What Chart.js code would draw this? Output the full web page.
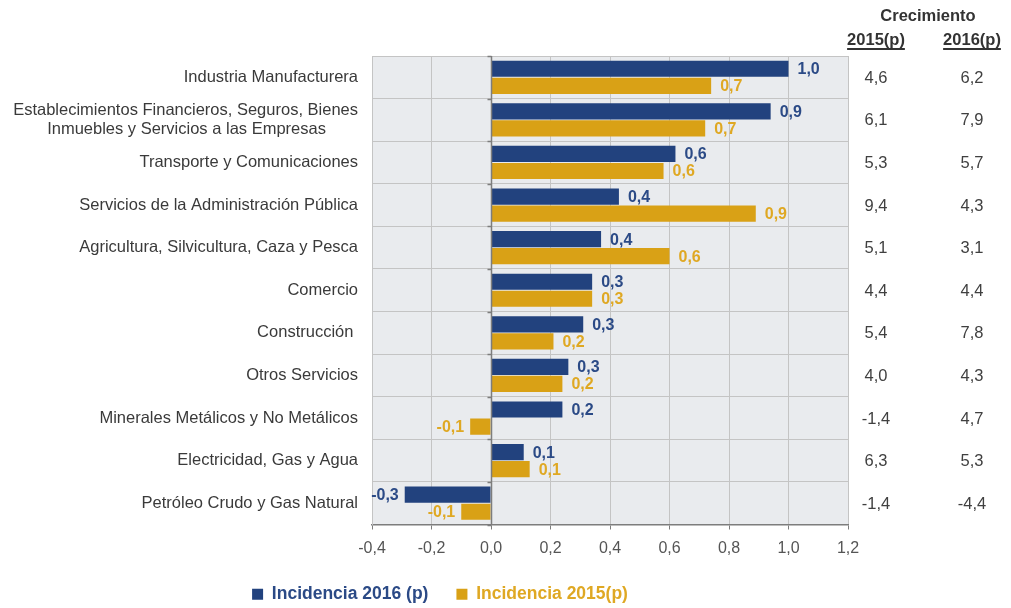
<!DOCTYPE html>
<html>
<head>
<meta charset="utf-8">
<script src="https://cdn.jsdelivr.net/npm/chart.js@4/dist/chart.umd.min.js"></script>
<style>
  html, body { margin: 0; padding: 0; background: #fff; }
  #wrap { width: 1011px; height: 608px; position: relative; }
</style>
</head>
<body>
<div id="wrap"><canvas id="pibChart"></canvas></div>
<script>
var categories = [
    'Industria Manufacturera',
    ['Establecimientos Financieros, Seguros, Bienes', 'Inmuebles y Servicios a las Empresas'],
    'Transporte y Comunicaciones',
    'Servicios de la Administración Pública',
    'Agricultura, Silvicultura, Caza y Pesca',
    'Comercio',
    'Construcción ',
    'Otros Servicios',
    'Minerales Metálicos y No Metálicos',
    'Electricidad, Gas y Agua',
    'Petróleo Crudo y Gas Natural'
];
var incidencia2016 = [1.0, 0.94, 0.62, 0.43, 0.37, 0.34, 0.31, 0.26, 0.24, 0.11, -0.29];
var incidencia2015 = [0.74, 0.72, 0.58, 0.89, 0.60, 0.34, 0.21, 0.24, -0.07, 0.13, -0.10];
var crecimiento2015 = [4.6, 6.1, 5.3, 9.4, 5.1, 4.4, 5.4, 4.0, -1.4, 6.3, -1.4];
var crecimiento2016 = [6.2, 7.9, 5.7, 4.3, 3.1, 4.4, 7.8, 4.3, 4.7, 5.3, -4.4];
var xMin = -0.4, xMax = 1.2, xStep = 0.2;

var blue = '#22427e';
var gold = '#d9a116';
var blueText = '#2b4a86';
var goldText = '#dfa823';
var font = '"Liberation Sans", Arial, sans-serif';
var labelSize = 16.5;

function fmt(v) {
    if (Math.abs(v) < 1e-9) v = 0;
    return v.toFixed(1).replace('.', ',');
}

// las etiquetas de dos lineas van centradas entre si
var measureCtx = document.createElement('canvas').getContext('2d');
measureCtx.font = labelSize + 'px ' + font;
function centerLines(lines) {
    var widths = lines.map(function(l) { return measureCtx.measureText(l).width; });
    var maxW = Math.max.apply(null, widths);
    var sp = measureCtx.measureText(' ').width;
    return lines.map(function(l, i) {
        var k = Math.round((maxW - widths[i]) / 2 / sp);
        return l + ' '.repeat(k);
    });
}

// fondo gris del area de graficos; la leyenda va un poco a la derecha
var plotBg = {
    id: 'plotBg',
    afterLayout: function(chart) {
        chart.legend.left += 16;
        chart.legend.right += 16;
    },
    beforeDraw: function(chart) {
        var a = chart.chartArea, ctx = chart.ctx;
        ctx.save();
        ctx.fillStyle = '#e9ebee';
        ctx.fillRect(a.left, a.top, a.right - a.left, a.bottom - a.top);
        ctx.restore();
    }
};

// linea del cero, etiquetas de valores y tabla de crecimiento
var extras = {
    id: 'extras',
    afterDatasetsDraw: function(chart) {
        var ctx = chart.ctx, a = chart.chartArea;
        var xs = chart.scales.x, ys = chart.scales.y;
        var x0 = Math.round(xs.getPixelForValue(0)) + 0.5;
        var n = categories.length;
        var rowH = (a.bottom - a.top) / n;

        ctx.save();
        ctx.strokeStyle = '#7d7d7d';
        ctx.lineWidth = 1.5;
        ctx.beginPath();
        ctx.moveTo(x0, a.top);
        ctx.lineTo(x0, a.bottom);
        for (var i = 0; i <= n; i++) {
            var yy = Math.round(a.top + i * rowH) + 0.5;
            ctx.moveTo(x0 - 4, yy);
            ctx.lineTo(x0, yy);
        }
        ctx.stroke();

        // valores en las barras
        ctx.font = 'bold 16px ' + font;
        ctx.textBaseline = 'middle';
        var sets = [[incidencia2016, blueText], [incidencia2015, goldText]];
        sets.forEach(function(s, di) {
            var meta = chart.getDatasetMeta(di);
            meta.data.forEach(function(bar, i) {
                var v = s[0][i];
                ctx.fillStyle = s[1];
                if (v >= 0) {
                    ctx.textAlign = 'left';
                    ctx.fillText(fmt(v), bar.x + 9, bar.y + 1);
                } else {
                    ctx.textAlign = 'right';
                    ctx.fillText(fmt(v), bar.x - 6, bar.y + 1);
                }
            });
        });

        // tabla de la derecha
        var c1 = 876, c2 = 972;
        ctx.fillStyle = '#333';
        ctx.textAlign = 'center';
        ctx.font = 'bold 16.5px ' + font;
        ctx.fillText('Crecimiento', 928, 16);
        ctx.fillText('2015(p)', c1, 40);
        ctx.fillText('2016(p)', c2, 40);
        ctx.strokeStyle = '#333';
        ctx.lineWidth = 2;
        ctx.beginPath();
        var w = ctx.measureText('2015(p)').width;
        ctx.moveTo(c1 - w / 2, 49); ctx.lineTo(c1 + w / 2, 49);
        w = ctx.measureText('2016(p)').width;
        ctx.moveTo(c2 - w / 2, 49); ctx.lineTo(c2 + w / 2, 49);
        ctx.stroke();

        ctx.font = labelSize + 'px ' + font;
        ctx.fillStyle = '#404040';
        for (var j = 0; j < n; j++) {
            var y = ys.getPixelForValue(j) + 1;
            ctx.fillText(fmt(crecimiento2015[j]), c1, y);
            ctx.fillText(fmt(crecimiento2016[j]), c2, y);
        }
        ctx.restore();
    }
};

var ctx = document.getElementById('pibChart').getContext('2d');

var myChart = new Chart(ctx, {
    type: 'bar',
    data: {
        labels: categories,
        datasets: [
            {
                label: 'Incidencia 2016 (p)',
                data: incidencia2016,
                backgroundColor: blue,
                barPercentage: 0.95,
                categoryPercentage: 0.8
            },
            {
                label: 'Incidencia 2015(p)',
                data: incidencia2015,
                backgroundColor: gold,
                barPercentage: 0.95,
                categoryPercentage: 0.8
            }
        ]
    },
    options: {
        indexAxis: 'y',
        responsive: true,
        maintainAspectRatio: false,
        animation: false,
        layout: {
            padding: { left: 0, right: 163, top: 56, bottom: -5 }
        },
        scales: {
            x: {
                min: xMin,
                max: xMax,
                afterFit: function(scale) { scale.height = 33; },
                ticks: {
                    stepSize: xStep,
                    padding: 9,
                    color: '#555',
                    font: { family: font, size: 16 },
                    callback: function(v) { return fmt(v); }
                },
                grid: {
                    color: '#c4c4c4',
                    tickColor: '#7d7d7d',
                    tickLength: 5
                },
                border: { color: '#7d7d7d', width: 1.5 }
            },
            y: {
                afterFit: function(scale) { scale.width = 372; },
                ticks: {
                    autoSkip: false,
                    padding: 14,
                    color: '#3a3a3a',
                    font: { family: font, size: labelSize, lineHeight: 1.2 },
                    callback: function(v, i) {
                        var lbl = categories[i];
                        return Array.isArray(lbl) ? centerLines(lbl) : lbl;
                    }
                },
                grid: {
                    color: '#c4c4c4',
                    drawTicks: false
                },
                border: { color: '#c4c4c4' }
            }
        },
        plugins: {
            tooltip: { enabled: false },
            legend: {
                position: 'bottom',
                labels: {
                    boxWidth: 11,
                    boxHeight: 11,
                    padding: 28,
                    font: { family: font, size: 17.5, weight: 'bold' },
                    generateLabels: function(chart) {
                        return chart.data.datasets.map(function(ds, i) {
                            return {
                                text: ds.label,
                                fillStyle: ds.backgroundColor,
                                strokeStyle: ds.backgroundColor,
                                fontColor: i === 0 ? blueText : goldText,
                                lineWidth: 0,
                                datasetIndex: i
                            };
                        });
                    }
                }
            }
        }
    },
    plugins: [plotBg, extras]
});
</script>
</body>
</html>
